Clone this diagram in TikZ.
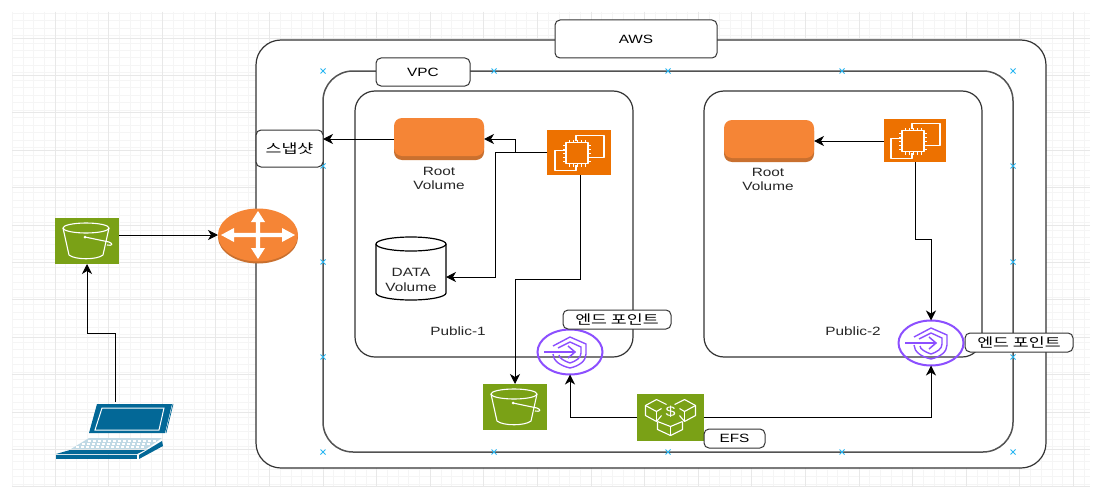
\documentclass[tikz,border=0pt]{standalone}
\usepackage{fontspec}
\setmainfont[FakeStretch=1.28]{Liberation Sans}
\newfontfamily\krfont[FakeStretch=1.33]{Noto Sans CJK KR}
\usetikzlibrary{arrows.meta,shapes.geometric}
\definecolor{awsorange}{HTML}{ED7100}
\definecolor{volorange}{HTML}{F58536}
\definecolor{voldark}{HTML}{C9702F}
\definecolor{s3green}{HTML}{7AA116}
\definecolor{epurple}{HTML}{8C4FFF}
\definecolor{lapblue}{HTML}{036897}
\definecolor{linegrey}{HTML}{333333}
\definecolor{markblue}{HTML}{29B6F2}
\definecolor{gridminor}{HTML}{F5F5F5}
\definecolor{gridmajor}{HTML}{E8E8E8}
\tikzset{
  x=1pt,y=-1pt,
  frame/.style={draw=linegrey,line width=1.2pt,fill=white},
  frameopen/.style={draw=linegrey,line width=1.2pt},
  labelbox/.style={draw=linegrey,line width=1pt,fill=white,rounded corners=5pt,inner sep=0pt,outer sep=0pt,font=\fontsize{12}{14}\selectfont},
  krbox/.style={labelbox,font=\krfont\fontsize{13}{15}\selectfont},
  caption/.style={inner sep=0pt,align=center,text=black!85,font=\fontsize{12}{14}\selectfont},
  iconbox/.style={inner sep=0pt,outer sep=0pt,draw=none},
  link/.style={draw=black,line width=1pt,-{Stealth[length=10pt,width=10pt,inset=3pt]}},
  iconline/.style={draw=white,line width=1.1pt,line join=round},
  bluemark/.style={draw=markblue,line width=0.9pt},
}
\newcommand\bucketicon[1]{%
  \begin{scope}[shift={(#1)},iconline]
    \draw (-1,-13) ellipse [x radius=23,y radius=5];
    \draw (-24,-13) -- (-18,14) .. controls (-12,19) and (10,19) .. (16,14) -- (22,-13);
    \draw (-2,-4) -- (22,1) .. controls (27,3) and (25,5) .. (20,4);
    \fill[white] (-2,-4) circle [radius=1.5];
  \end{scope}}
\newcommand\chipicon[1]{%
  \begin{scope}[shift={(#1)},iconline]
    \draw (-3,-12) -- (-3,-17) -- (25,-17) -- (25,5) -- (11,5);
    \draw (-14,-2) -- (-24,-2) -- (-24,18) -- (-3,18) -- (-3,12);
    \draw (-13,-10) rectangle (9,11);
    \foreach \p in {-10,-6,-2,2,6}{
      \draw[line width=0.7pt] (\p,-10) -- (\p,-13);
      \draw[line width=0.7pt] (\p,11) -- (\p,14);
    }
    \foreach \p in {-7,-3,1,5,9}{
      \draw[line width=0.7pt] (-13,\p) -- (-16,\p);
      \draw[line width=0.7pt] (9,\p) -- (12,\p);
    }
  \end{scope}}
\newcommand\costicon[1]{%
  \begin{scope}[shift={(#1)},iconline]
    \draw (-9,-2) -- (-14,4) -- (-25,-2) -- (-25,-12) -- (-14,-18) -- (-4,-13);
    \draw (-25,-12) -- (-14,-6) -- (-9,-9);
    \draw (-14,-6) -- (-14,4);
    \draw (9,-2) -- (14,4) -- (25,-2) -- (25,-12) -- (14,-18) -- (4,-13);
    \draw (25,-12) -- (14,-6) -- (9,-9);
    \draw (14,-6) -- (14,4);
    \draw (-13,4) -- (-13,12) -- (0,18) -- (12,12) -- (12,4);
    \draw (-13,4) -- (0,9) -- (12,4);
    \draw (0,9) -- (0,18);
    \node[inner sep=0pt,text=white,font=\fontsize{14}{14}\selectfont] at (0,-6) {\$};
  \end{scope}}
\newcommand\vpeicon[1]{%
  \begin{scope}[shift={(#1)}]
    \draw[epurple,line width=2pt] (0,0) ellipse [x radius=32.5,y radius=22.5];
    \draw[epurple,line width=1.4pt,line join=round] (-17,-6) -- (0,-15) -- (16,-8) -- (16,2) .. controls (16,9) and (9,14) .. (0,16) .. controls (-9,14) and (-17,9) .. (-17,2);
    \draw[epurple,line width=1.4pt,line join=round] (-12,-4) -- (0,-10) -- (11,-5) -- (11,1) .. controls (11,6) and (6,9) .. (0,11) .. controls (-6,9) and (-11,6) .. (-11,3);
    \draw[epurple,line width=1.5pt] (-26,0) -- (5,0);
    \draw[epurple,line width=1.5pt] (-2,-6) -- (5,0) -- (-2,6);
  \end{scope}}
\begin{document}
\begin{tikzpicture}
\useasboundingbox (0,0) rectangle (1099,487);
\fill[white] (0,0) rectangle (1099,487);
% grid
\foreach \k in {0,...,100}{
  \pgfmathsetmacro\gx{12.1+10.72*\k}
  \draw[gridminor,line width=0.6pt] (\gx,12) -- (\gx,487);
}
\foreach \k in {0,...,63}{
  \pgfmathsetmacro\gy{12.9+7.48*\k}
  \draw[gridminor,line width=0.6pt] (12,\gy) -- (1090,\gy);
}
\foreach \k in {1,...,20}{
  \pgfmathsetmacro\gx{1.4+53.6*\k}
  \draw[gridmajor,line width=0.8pt] (\gx,12) -- (\gx,487);
}
\foreach \k in {0,...,12}{
  \pgfmathsetmacro\gy{38+37.4*\k}
  \draw[gridmajor,line width=0.8pt] (12,\gy) -- (1090,\gy);
}
% containers
\draw[frame,rounded corners=25pt] (256,40) rectangle (1046,468);
\draw[frameopen,draw=linegrey!85,line width=1.5pt,rounded corners=30pt] (323,71) rectangle (1013,452);
\draw[frameopen,rounded corners=20pt] (355,91) rectangle (633,357);
\draw[frameopen,rounded corners=20pt] (704,91) rectangle (982,357);
% blue markers
\foreach \mx/\my in {323/71,494/71,668/71,842/71,1013/71,323/166,1013/166,323/262,1013/262,323/357,1013/357,323/452,494/452,668/452,842/452,1013/452}{
  \draw[bluemark] (\mx-2.5,\my-2.5) -- (\mx+2.5,\my+2.5) (\mx-2.5,\my+2.5) -- (\mx+2.5,\my-2.5);
}
% labels on containers
\node[labelbox,minimum width=162pt,minimum height=38pt] (aws) at (636,39) {AWS};
\node[labelbox,minimum width=94pt,minimum height=28pt] (vpc) at (423,72) {VPC};
\node[krbox,minimum width=67pt,minimum height=37pt] (snap) at (289.5,148.5) {스냅샷};
% router
\fill[voldark] (258,237) ellipse [x radius=40,y radius=26.5];
\node[ellipse,fill=volorange,inner sep=0pt,outer sep=0pt,minimum width=80pt,minimum height=53pt] (router) at (258,235) {};
\begin{scope}[shift={(router.center)}]
  \fill[white] (0,-24) -- (-7,-13) -- (-2.2,-13) -- (-2.2,-2.2) -- (-24,-2.2) -- (-24,-7) -- (-37,0) -- (-24,7) -- (-24,2.2) -- (-2.2,2.2) -- (-2.2,13) -- (-7,13) -- (0,24) -- (7,13) -- (2.2,13) -- (2.2,2.2) -- (24,2.2) -- (24,7) -- (37,0) -- (24,-7) -- (24,-2.2) -- (2.2,-2.2) -- (2.2,-13) -- (7,-13) -- cycle;
\end{scope}
% S3 buckets
\node[iconbox,fill=s3green,minimum width=64pt,minimum height=46pt] (s3a) at (87,241) {};
\bucketicon{s3a.center}
\node[iconbox,fill=s3green,minimum width=64pt,minimum height=46pt] (s3b) at (515,407) {};
\bucketicon{s3b.center}
% EC2
\node[iconbox,fill=awsorange,minimum width=64pt,minimum height=45pt] (ec2a) at (579,152.5) {};
\chipicon{ec2a.center}
\node[iconbox,fill=awsorange,minimum width=62pt,minimum height=43pt] (ec2b) at (915,140.5) {};
\chipicon{ec2b.center}
% root volumes
\fill[voldark,rounded corners=8pt] (394,121) rectangle (484,160);
\node[inner sep=0pt,outer sep=0pt,fill=volorange,rounded corners=8pt,minimum width=90pt,minimum height=38pt] (rootA) at (439,137) {};
\fill[voldark,rounded corners=8pt] (724,123) rectangle (814,162);
\node[inner sep=0pt,outer sep=0pt,fill=volorange,rounded corners=8pt,minimum width=90pt,minimum height=38pt] (rootB) at (769,139) {};
\node[caption] (rootAt) at (439,178) {Root\\Volume};
\node[caption] (rootBt) at (768,179.5) {Root\\Volume};
% data cylinder
\draw[draw=black,line width=1.2pt,fill=white] (376,244) -- (376,293) arc [start angle=180,end angle=0,x radius=35,y radius=7] -- (446,244) arc [start angle=0,end angle=-180,x radius=35,y radius=7] -- cycle;
\draw[draw=black,line width=1.2pt] (376,244) arc [start angle=180,end angle=0,x radius=35,y radius=7];
\node[inner sep=0pt,outer sep=0pt,align=center,text=black!85,font=\fontsize{12}{15}\selectfont] (dataT) at (411,279.5) {DATA\\Volume};
\coordinate (dataIn) at (446,277);
% cost icon
\node[iconbox,fill=s3green,minimum width=67pt,minimum height=47pt] (cost) at (670.5,417.5) {};
\costicon{cost.center}
\node[labelbox,minimum width=61pt,minimum height=19pt] (efs) at (734.5,438.5) {EFS};
% endpoints
\coordinate (ep1) at (570,352);
\coordinate (ep2) at (931,343);
\vpeicon{ep1}
\vpeicon{ep2}
\node[inner sep=0pt,outer sep=0pt,minimum width=65pt,minimum height=45pt] (ep1n) at (ep1) {};
\node[inner sep=0pt,outer sep=0pt,minimum width=65pt,minimum height=45pt] (ep2n) at (ep2) {};
\node[krbox,minimum width=108pt,minimum height=19pt] (ep1l) at (617,319.5) {엔드 포인트};
\node[krbox,minimum width=108pt,minimum height=19pt] (ep2l) at (1019,342.5) {엔드 포인트};
% texts
\node[caption] (pub1) at (458,331) {Public-1};
\node[caption] (pub2) at (853,331) {Public-2};
% laptop
\coordinate (lap) at (115,402);
\begin{scope}
  \fill[lapblue] (97,404) -- (172,404) -- (165,433) -- (89,433) -- cycle;
  \draw[white,line width=1pt] (102,408) -- (164,408) -- (159,430) -- (95,430) -- cycle;
  \draw[lapblue,line width=0.7pt] (173,404) -- (166,433);
  \fill[lapblue!25] (89,438) -- (162,438) -- (146,449) -- (71,449) -- cycle;
  \foreach \row in {0,1,2}{
    \foreach \c in {0,...,13}{
      \fill[white] ({88+5*\c-6*\row},{440+3.2*\row}) rectangle ++(3.2,1.8);
    }
  }
  \fill[lapblue] (70,450) -- (145,450) -- (137,454) -- (56,454) -- cycle;
  \fill[lapblue] (56,455) -- (137,455) -- (137,459) -- (56,459) -- cycle;
  \fill[lapblue] (139,455) -- (162,441) -- (163,446) -- (139,459) -- cycle;
\end{scope}
% connector helper coordinates
\coordinate (s3aOut) at (119,235);
\coordinate (rootAe) at (484,139);
\coordinate (rootAw) at (394,139);
\coordinate (snapE) at (323,139);
\coordinate (rootBe) at (814,141);
\coordinate (ec2bW) at (884,141);
\coordinate (ec2aS) at (580,175);
% connectors
\draw[link] (s3aOut) -- (router.west);
\draw[link] (lap) -- (115,333) -- (87,333) -- (s3a.south);
\draw[link] (ec2a.west) -- (515,152.5) -- (515,139) -- (rootAe);
\draw[link] (ec2a.west) -- (495,152.5) -- (495,277) -- (dataIn);
\draw[link] (rootAw) -- (snapE);
\draw[link] (ec2aS) -- (580,279) -- (515,279) -- (s3b.north);
\draw[link] (cost.west) -- (570,417.5) -- (ep1n.south);
\draw[link] (cost.east) -- (931,417.5) -- (ep2n.south);
\draw[link] (ec2bW) -- (rootBe);
\draw[link] (ec2b.south) -- (915,239) -- (931,239) -- (ep2n.north);
\end{tikzpicture}
\end{document}
